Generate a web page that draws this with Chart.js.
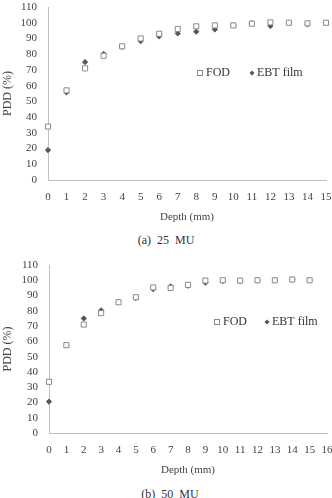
<!DOCTYPE html>
<html>
<head>
<meta charset="utf-8">
<script src="https://cdn.jsdelivr.net/npm/chart.js@4"></script>
<style>
  html, body { margin: 0; padding: 0; background: #fff; overflow: hidden; }
  body { width: 332px; height: 498px; position: relative; }
  .box { position: absolute; left: 0; }
  .cap { position: absolute; left: 0; width: 332px; text-align: center;
         font: 12px "Liberation Serif", serif; color: #333; white-space: pre; }
</style>
</head>
<body>
<div class="box" style="top:0;width:332px;height:228px"><canvas id="chartA"></canvas></div>
<div class="cap" style="top:233px">(a)  25  MU</div>
<div class="box" style="top:250px;width:340px;height:231px"><canvas id="chartB"></canvas></div>
<div class="cap" style="top:487px;left:4px">(b)  50  MU</div>
<script>
// depth in mm (same for both panels)
const depths = [0, 1, 2, 3, 4, 5, 6, 7, 8, 9, 10, 11, 12, 13, 14, 15];

// (a) 25 MU
const fod25 = [34, 57, 71, 79, 85, 90, 93, 96, 97.7, 98.3, 98.3, 99.4, 100.2, 100, 99.6, 100];
const ebt25 = [19, 55.7, 75, 80.2, 84.7, 88.3, 91.3, 93.2, 94.3, 95.7, 98.3, 99.8, 97.9, 100, 99, 100];

// (b) 50 MU
const fod50 = [33.5, 57.5, 71, 78.5, 85.6, 88.9, 95.3, 95, 97, 99.8, 100, 99.8, 100, 100, 100.5, 100];
const ebt50 = [20.5, 57.5, 75, 80.3, 85.8, 88.4, 94.2, 96, 96.4, 98.4, 99.5, 99.5, 100, 100, 100.5, 100];

const yTicks = [0, 10, 20, 30, 40, 50, 60, 70, 80, 90, 100, 110];

const seriesNames = ["FOD", "EBT film"];
const FONT = "'Liberation Serif', 'Times New Roman', serif";
const FOD_COLOR = "#8a8a8a";
const EBT_COLOR = "#555555";
const AXIS_COLOR = "#bfbfbf";

const toPoints = (vals) => vals.map((v, i) => ({ x: depths[i], y: v }));

// simple legend drawn inside the plot area at a fixed spot
const floatLegend = {
  id: "floatLegend",
  afterDraw(chart, args, opts) {
    const ctx = chart.ctx;
    ctx.save();
    ctx.font = "12px " + FONT;
    ctx.textBaseline = "middle";
    // FOD marker
    ctx.strokeStyle = FOD_COLOR;
    ctx.lineWidth = 1;
    ctx.fillStyle = "#fff";
    ctx.fillRect(opts.x - 2.5, opts.y - 2.5, 5, 5);
    ctx.strokeRect(opts.x - 2.5, opts.y - 2.5, 5, 5);
    ctx.fillStyle = "#333";
    ctx.fillText(seriesNames[0], opts.x + 6, opts.y);
    // EBT marker
    const ex = opts.x + opts.gap;
    ctx.fillStyle = EBT_COLOR;
    ctx.beginPath();
    ctx.moveTo(ex - 2.5, opts.y);
    ctx.lineTo(ex, opts.y - 2.5);
    ctx.lineTo(ex + 2.5, opts.y);
    ctx.lineTo(ex, opts.y + 2.5);
    ctx.closePath();
    ctx.fill();
    ctx.fillStyle = "#333";
    ctx.fillText(seriesNames[1], ex + 5, opts.y);
    ctx.restore();
  },
};

function makeChart(id, fod, ebt, xMax, yAxisW, padTop, padRight, legendPos) {
  const xTicks = [];
  for (let i = 0; i <= xMax; i++) xTicks.push(i);
  return new Chart(document.getElementById(id), {
    type: "scatter",
    data: {
      datasets: [
        {
          label: seriesNames[0],
          data: toPoints(fod),
          pointStyle: "rect",
          radius: 3.6,
          borderWidth: 1,
          borderColor: FOD_COLOR,
          backgroundColor: "#fff",
          clip: false,
        },
        {
          label: seriesNames[1],
          data: toPoints(ebt),
          pointStyle: "rectRot",
          radius: 2.6,
          borderWidth: 1,
          borderColor: EBT_COLOR,
          backgroundColor: EBT_COLOR,
          clip: false,
        },
      ],
    },
    options: {
      responsive: true,
      maintainAspectRatio: false,
      animation: false,
      layout: { padding: 0 },
      plugins: {
        legend: { display: false },
        tooltip: { enabled: false },
        floatLegend: legendPos,
      },
      scales: {
        x: {
          type: "linear",
          min: 0,
          max: xMax,
          afterBuildTicks: (s) => { s.ticks = xTicks.map((v) => ({ value: v })); },
          afterFit: (s) => { s.height = 48; s.paddingLeft = 0; s.paddingRight = padRight; },
          grid: { display: false, drawTicks: false },
          border: { display: true, color: AXIS_COLOR },
          ticks: { padding: 11, color: "#444", font: { family: FONT, size: 11 }, maxRotation: 0, autoSkip: false },
          title: { display: true, text: "Depth (mm)", color: "#444", font: { family: FONT, size: 11 }, padding: { top: 7 } },
        },
        y: {
          min: 0,
          max: 110,
          afterBuildTicks: (s) => { s.ticks = yTicks.map((v) => ({ value: v })); },
          afterFit: (s) => { s.width = yAxisW; s.paddingTop = padTop; s.paddingBottom = 0; },
          grid: { display: false, drawTicks: false },
          border: { display: true, color: AXIS_COLOR },
          ticks: { padding: 11, color: "#444", font: { family: FONT, size: 11 }, autoSkip: false },
          title: { display: true, text: "PDD (%)", color: "#444", font: { family: FONT, size: 12 }, padding: { top: 1, bottom: 0 } },
        },
      },
    },
    plugins: [floatLegend],
  });
}

makeChart("chartA", fod25, ebt25, 15, 48, 7, 6, { x: 200, y: 73, gap: 52 });
makeChart("chartB", fod50, ebt50, 16, 49, 15, 13, { x: 217, y: 72, gap: 50 });
</script>
</body>
</html>
